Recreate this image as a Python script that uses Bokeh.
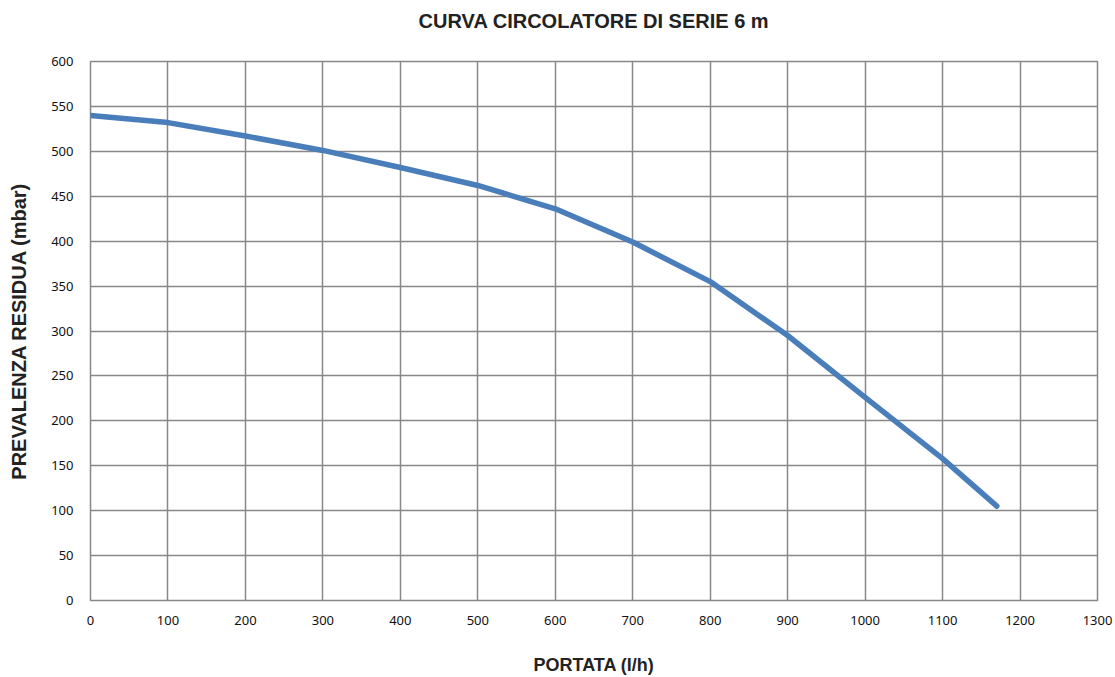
from bokeh.plotting import figure
from bokeh.embed import file_html
from bokeh.resources import INLINE
from bokeh.models import FixedTicker, Range1d, Title

portata = [0, 100, 200, 300, 400, 500, 600, 700, 800, 900, 1000, 1100, 1170]
prevalenza = [540, 532, 517, 501, 482, 462, 436, 399, 355, 295, 226, 158, 105]
x_ticks = list(range(0, 1301, 100))
y_ticks = list(range(0, 601, 50))
titolo = "CURVA CIRCOLATORE DI SERIE 6 m"

p = figure(width=1115, height=677, output_backend="svg", toolbar_location=None,
           x_range=Range1d(0, 1300), y_range=Range1d(0, 600),
           min_border_left=90, min_border_right=18, min_border_top=61, min_border_bottom=76)

# spacer title (nearest the frame) keeps the real title higher up
spacer = Title(text=" ", standoff=27, text_font_size="1px")
p.add_layout(spacer, "above")
main_title = Title(text=titolo, align="center", vertical_align="bottom", standoff=0,
                   text_font="Liberation Sans", text_font_size="20px",
                   text_font_style="bold", text_color="#222222")
p.add_layout(main_title, "above")

p.line(portata, prevalenza, line_color="#4a7ebb", line_width=5.5, line_cap="round", line_join="round")

for ax in (p.xaxis[0], p.yaxis[0]):
    ax.axis_line_color = None
    ax.major_tick_line_color = None
    ax.minor_tick_line_color = None
    ax.major_label_text_font = "Noto Sans"
    ax.major_label_text_font_size = "13px"
    ax.major_label_text_color = "#111111"
    ax.axis_label_text_font = "Liberation Sans"
    ax.axis_label_text_font_style = "bold"
    ax.axis_label_text_color = "#222222"

p.xaxis.axis_label_text_font_size = "18px"
p.yaxis.axis_label_text_font_size = "20px"
p.xaxis.ticker = FixedTicker(ticks=x_ticks)
p.yaxis.ticker = FixedTicker(ticks=y_ticks)
p.xaxis.axis_label = "PORTATA (l/h)"
p.yaxis.axis_label = "PREVALENZA RESIDUA (mbar)"
p.xaxis.major_label_standoff = 9
p.yaxis.major_label_standoff = 11
p.xaxis.axis_label_standoff = 27
p.yaxis.axis_label_standoff = 18

p.xgrid.ticker = FixedTicker(ticks=x_ticks)
p.ygrid.ticker = FixedTicker(ticks=y_ticks)
p.grid.grid_line_color = "#888888"
p.grid.grid_line_width = 1.5
p.grid.grid_line_alpha = 1.0
p.outline_line_color = "#888888"
p.outline_line_width = 1.5
p.background_fill_color = "white"
p.border_fill_color = "white"

open("out.html", "w").write(file_html(p, INLINE))
